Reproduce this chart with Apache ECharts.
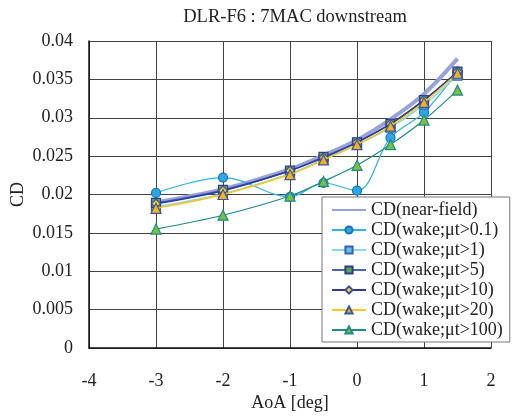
<!DOCTYPE html>
<html><head><meta charset="utf-8">
<script src="https://cdn.jsdelivr.net/npm/echarts@6/dist/echarts.min.js"></script>
<style>html,body{margin:0;padding:0;background:#fff}#c{width:513px;height:416px}</style>
</head><body><div id="c"></div>
<script>
const aoa = [-3, -2, -1, -0.5, 0, 0.5, 1, 1.5];
const nearField = [0.0190, 0.0207, 0.0233, 0.0251, 0.0271, 0.0298, 0.0331, 0.0377];
const wake01  = [0.0202, 0.0222, 0.0197, 0.0215, 0.0205, 0.0274, 0.0307, 0.0360];
const wake1   = [0.0184, 0.0201, 0.0227, 0.0246, 0.0265, 0.0287, 0.0317, 0.0355];
const wake5   = [0.0189, 0.0206, 0.0231, 0.0249, 0.0268, 0.0292, 0.0323, 0.0360];
const wake10  = [0.0188, 0.0205, 0.0231, 0.0248, 0.0268, 0.0292, 0.0323, 0.0360];
const wake20  = [0.0182, 0.0200, 0.0226, 0.0245, 0.0265, 0.0289, 0.0320, 0.0358];
const wake100 = [0.0155, 0.0173, 0.0198, 0.0217, 0.0238, 0.0265, 0.0297, 0.0336];
const names = ['CD(near-field)','CD(wake;μt>0.1)','CD(wake;μt>1)','CD(wake;μt>5)','CD(wake;μt>10)','CD(wake;μt>20)','CD(wake;μt>100)'];
const yTicks = ['0','0.005','0.01','0.015','0.02','0.025','0.03','0.035','0.04'];

const font = '"Liberation Serif", "Times New Roman", serif';
function pts(v){ return aoa.map((x,i)=>[x,v[i]]); }
function s(name, data, color, width, symbol, size, fill, border, z){
  return {name, type:'line', data:pts(data), smooth:0.35, z,
    lineStyle:{color, width}, symbol, symbolSize:size,
    showSymbol: size>0,
    itemStyle:{color:fill, borderColor:border, borderWidth:1.2}};
}
const chart = echarts.init(document.getElementById('c'), null, {renderer:'canvas'});
chart.setOption({
  animation:false,
  textStyle:{fontFamily:font},
  title:{text:'DLR-F6 : 7MAC downstream', left:290, textAlign:'center', top:3,
    textStyle:{fontFamily:font, fontSize:18.5, fontWeight:'normal', color:'#222'}},
  grid:{left:89, right:22, top:41, bottom:68, containLabel:false, outerBoundsMode:'none'},
  xAxis:{type:'value', min:-4, max:2, interval:1,
    name:'AoA [deg]', nameLocation:'middle', nameGap:46, nameMoveOverlap:false,
    nameTextStyle:{fontFamily:font, fontSize:18, color:'#222'},
    axisLine:{show:true, onZero:false, lineStyle:{color:'#111', width:1.5}},
    axisTick:{show:false},
    axisLabel:{margin:24, fontFamily:font, fontSize:18, color:'#222'},
    splitLine:{show:true, lineStyle:{color:'#444', width:1}}},
  yAxis:{type:'value', min:0, max:0.04, interval:0.005,
    name:'CD', nameLocation:'middle', nameGap:62, nameRotate:90, nameMoveOverlap:false,
    nameTextStyle:{fontFamily:font, fontSize:18, color:'#222'},
    axisLine:{show:true, onZero:false, lineStyle:{color:'#111', width:1.5}},
    axisTick:{show:false},
    axisLabel:{margin:16, fontFamily:font, fontSize:18, color:'#222',
      formatter:(v)=>yTicks[Math.round(v/0.005)]},
    splitLine:{show:true, lineStyle:{color:'#444', width:1}}},
  legend:{orient:'vertical', left:322, top:197,
    backgroundColor:'#fff', borderColor:'#777', borderWidth:1,
    padding:[4,7,3,9], itemGap:2, itemWidth:34, itemHeight:9,
    textStyle:{fontFamily:font, fontSize:18, color:'#222'},
    data:names},
  series:[
    s(names[0], nearField, '#9AA3D8', 4, 'circle', 0, 'rgba(0,0,0,0)', 'rgba(0,0,0,0)', 2),
    s(names[1], wake01, '#2FB4E8', 1.2, 'circle', 9, '#2DA8E6', '#1F6FB8', 3),
    s(names[2], wake1, '#8AD6EA', 1.5, 'rect', 9, '#62C0E8', '#3A62AE', 4),
    s(names[3], wake5, '#4A62B8', 1.5, 'rect', 9, '#5BAA45', '#2E3C92', 5),
    s(names[4], wake10, '#2E3A96', 1.5, 'diamond', 9, '#F5DC1C', '#3A4CA8', 6),
    s(names[5], wake20, '#F5C823', 1.5, 'triangle', 10, '#F2B41A', '#3A55A8', 7),
    s(names[6], wake100, '#1E8C8A', 1.2, 'triangle', 10, '#79C143', '#1E8C8A', 8)
  ]
});
</script></body></html>
